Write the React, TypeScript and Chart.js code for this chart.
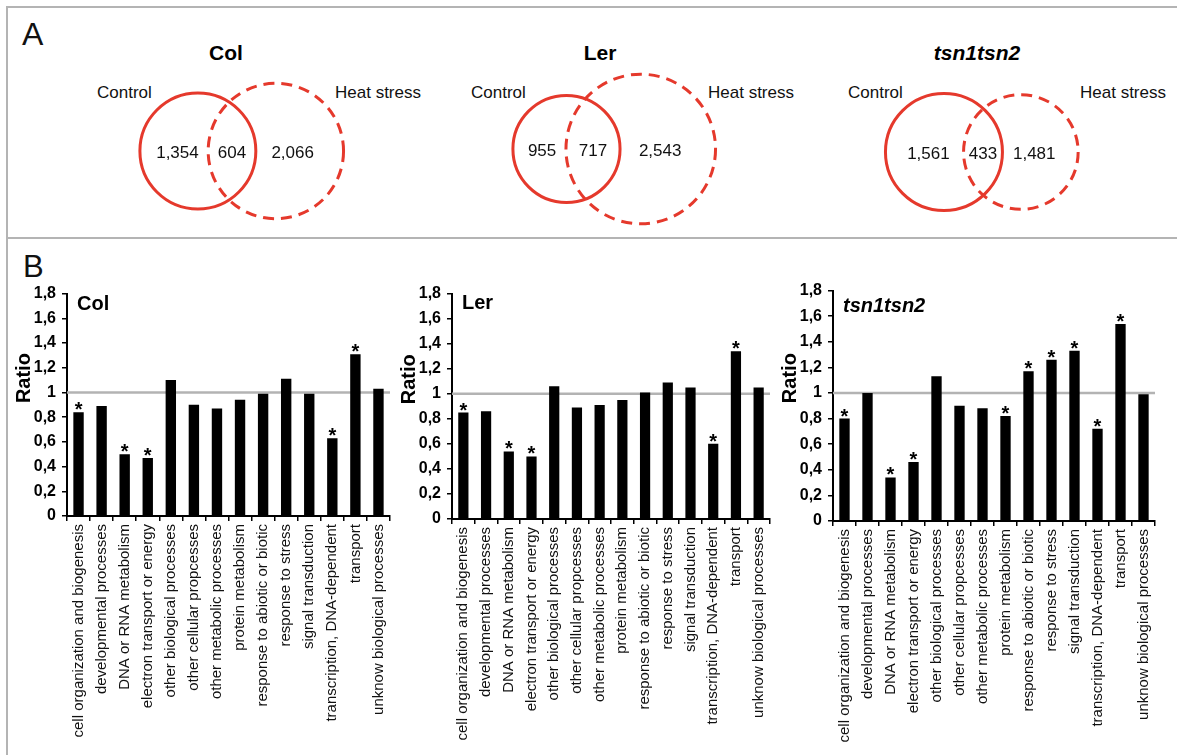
import React, { useEffect, useRef } from 'react';
import { Chart, registerables } from 'chart.js';

Chart.register(...registerables);

const FONT = "'Liberation Sans', Arial, Helvetica, sans-serif";
Chart.defaults.font.family = FONT;

// ---------------- Data ----------------
const categories = [
  'cell organization and biogenesis',
  'developmental processes',
  'DNA or RNA metabolism',
  'electron transport or energy',
  'other biological processes',
  'other cellular propcesses',
  'other metabolic processes',
  'protein metabolism',
  'response to abiotic or biotic',
  'response to stress',
  'signal transduction',
  'transcription, DNA-dependent',
  'transport',
  'unknow biological processes',
];

const yTickLabels = ['0', '0,2', '0,4', '0,6', '0,8', '1', '1,2', '1,4', '1,6', '1,8'];

const colRatio = [0.84, 0.89, 0.5, 0.47, 1.1, 0.9, 0.87, 0.94, 0.99, 1.11, 0.99, 0.63, 1.31, 1.03];
const colSig = [true, false, true, true, false, false, false, false, false, false, false, true, true, false];

const lerRatio = [0.85, 0.86, 0.54, 0.5, 1.06, 0.89, 0.91, 0.95, 1.01, 1.09, 1.05, 0.6, 1.34, 1.05];
const lerSig = [true, false, true, true, false, false, false, false, false, false, false, true, true, false];

const tsnRatio = [0.8, 1.0, 0.34, 0.46, 1.13, 0.9, 0.88, 0.82, 1.17, 1.26, 1.33, 0.72, 1.54, 0.99];
const tsnSig = [true, false, true, true, false, false, false, true, true, true, true, true, true, false];

const vennNames = ['Col', 'Ler', 'tsn1tsn2'];
const vennControlOnly = [1354, 955, 1561];
const vennShared = [604, 717, 433];
const vennHeatOnly = [2066, 2543, 1481];

// ---------------- Layout / style ----------------
const RED = '#e5392c';
const FRAME = '#b4b4b4';
const VENN_CANVAS = { left: 9, top: 9, width: 1168, height: 227 };
const vennAnchorX = [232, 593, 983];
const vennAnchorY = [151, 149, 152];
const vennTitleX = [226, 600, 977];
const controlLabelX = [97, 471, 848];
const heatLabelX = [335, 708, 1080];
const AREA_K = 1.31;

function lensArea(r1: number, r2: number, d: number) {
  if (d >= r1 + r2) return 0;
  if (d <= Math.abs(r1 - r2)) return Math.PI * Math.min(r1, r2) ** 2;
  const a = r1 * r1 * Math.acos((d * d + r1 * r1 - r2 * r2) / (2 * d * r1));
  const b = r2 * r2 * Math.acos((d * d + r2 * r2 - r1 * r1) / (2 * d * r2));
  const c = 0.5 * Math.sqrt((-d + r1 + r2) * (d + r1 - r2) * (d - r1 + r2) * (d + r1 + r2));
  return a + b - c;
}

function vennGeometry(i: number) {
  const r1 = AREA_K * Math.sqrt(vennControlOnly[i] + vennShared[i]);
  const r2 = AREA_K * Math.sqrt(vennHeatOnly[i] + vennShared[i]);
  const target = Math.PI * AREA_K * AREA_K * vennShared[i];
  let lo = Math.abs(r1 - r2) + 1e-6;
  let hi = r1 + r2;
  for (let k = 0; k < 80; k++) {
    const mid = (lo + hi) / 2;
    if (lensArea(r1, r2, mid) > target) lo = mid;
    else hi = mid;
  }
  const d = (lo + hi) / 2;
  const c1 = vennAnchorX[i] - VENN_CANVAS.left - (d + r1 - r2) / 2;
  const c2 = c1 + d;
  const cy = vennAnchorY[i] - VENN_CANVAS.top;
  return { r1, r2, c1, c2, cy };
}

const fmt = (n: number) => n.toLocaleString('en-US');

function VennPanel() {
  const ref = useRef<HTMLCanvasElement>(null);
  useEffect(() => {
    const geo = vennNames.map((_, i) => vennGeometry(i));
    const dashPlugin = {
      id: 'dashCircles',
      beforeDatasetDraw(chart: any, args: any) {
        const ds = chart.data.datasets[args.index];
        chart.ctx.setLineDash(ds.dashPattern || []);
      },
      afterDatasetDraw(chart: any) {
        chart.ctx.setLineDash([]);
      },
    };
    const countPlugin = {
      id: 'vennCounts',
      afterDatasetsDraw(chart: any) {
        const { ctx } = chart;
        const xs = chart.scales.x;
        const ys = chart.scales.y;
        ctx.save();
        ctx.font = `17px ${FONT}`;
        ctx.fillStyle = '#111';
        ctx.textAlign = 'center';
        ctx.textBaseline = 'alphabetic';
        geo.forEach((g, i) => {
          const py = ys.getPixelForValue(g.cy) + 6.5;
          const l0 = g.c1 - g.r1;
          const l1 = g.c2 - g.r2;
          const r0 = g.c1 + g.r1;
          const r1 = g.c2 + g.r2;
          const leftX = l0 + 0.55 * (l1 - l0);
          const midX = (l1 + r0) / 2;
          const rightX = r0 + 0.42 * (r1 - r0);
          ctx.fillText(fmt(vennControlOnly[i]), xs.getPixelForValue(leftX), py);
          ctx.fillText(fmt(vennShared[i]), xs.getPixelForValue(midX), py);
          ctx.fillText(fmt(vennHeatOnly[i]), xs.getPixelForValue(rightX), py);
        });
        ctx.restore();
      },
    };
    const chart = new Chart(ref.current as HTMLCanvasElement, {
      type: 'bubble',
      data: {
        datasets: [
          {
            label: 'Control',
            data: geo.map((g) => ({ x: g.c1, y: g.cy, r: g.r1 })),
            borderColor: RED,
            backgroundColor: 'rgba(0,0,0,0)',
            borderWidth: 3,
            clip: false,
          } as any,
          {
            label: 'Heat stress',
            data: geo.map((g) => ({ x: g.c2, y: g.cy, r: g.r2 })),
            borderColor: RED,
            backgroundColor: 'rgba(0,0,0,0)',
            borderWidth: 3,
            clip: false,
            dashPattern: [11, 7],
          } as any,
        ],
      },
      options: {
        animation: false,
        responsive: false,
        events: [],
        layout: { padding: 0, autoPadding: false },
        plugins: { legend: { display: false }, tooltip: { enabled: false } },
        scales: {
          x: { type: 'linear', min: 0, max: VENN_CANVAS.width, display: false },
          y: { type: 'linear', min: 0, max: VENN_CANVAS.height, reverse: true, display: false },
        },
      } as any,
      plugins: [dashPlugin, countPlugin],
    });
    return () => chart.destroy();
  }, []);
  return (
    <canvas
      ref={ref}
      width={VENN_CANVAS.width}
      height={VENN_CANVAS.height}
      style={{
        position: 'absolute',
        left: VENN_CANVAS.left,
        top: VENN_CANVAS.top,
        width: VENN_CANVAS.width,
        height: VENN_CANVAS.height,
      }}
    />
  );
}

const Y_AXIS_W = 57;
const X_AXIS_H = 232;
const PAD_TOP = 15;
const PAD_RIGHT = 12;

type BarProps = {
  values: number[];
  sig: boolean[];
  title: string;
  italic?: boolean;
  axisX: number;
  chartTop: number;
  chartBottom: number;
  chartRight: number;
  titleDy: number;
};

function BarPanel({ values, sig, title, italic, axisX, chartTop, chartBottom, chartRight, titleDy }: BarProps) {
  const ref = useRef<HTMLCanvasElement>(null);
  const left = axisX - Y_AXIS_W;
  const top = chartTop - PAD_TOP;
  const width = chartRight + PAD_RIGHT - left;
  const height = chartBottom - chartTop + PAD_TOP + X_AXIS_H;

  useEffect(() => {
    const refLine = {
      id: 'refLine',
      beforeDatasetsDraw(chart: any) {
        const { ctx, chartArea } = chart;
        const y = chart.scales.y.getPixelForValue(1);
        ctx.save();
        ctx.strokeStyle = '#b3b3b3';
        ctx.lineWidth = 2.5;
        ctx.beginPath();
        ctx.moveTo(chartArea.left, y);
        ctx.lineTo(chartArea.right, y);
        ctx.stroke();
        ctx.restore();
      },
    };
    const stars = {
      id: 'stars',
      afterDatasetsDraw(chart: any) {
        const { ctx } = chart;
        const meta = chart.getDatasetMeta(0);
        ctx.save();
        ctx.font = `bold 20px ${FONT}`;
        ctx.fillStyle = '#000';
        ctx.textAlign = 'center';
        ctx.textBaseline = 'alphabetic';
        meta.data.forEach((bar: any, i: number) => {
          if (sig[i]) ctx.fillText('*', bar.x, bar.y + 4);
        });
        ctx.restore();
      },
    };
    const titles = {
      id: 'panelTitles',
      afterDraw(chart: any) {
        const { ctx, chartArea } = chart;
        ctx.save();
        ctx.font = `${italic ? 'italic ' : ''}bold 20px ${FONT}`;
        ctx.fillStyle = '#000';
        ctx.textAlign = 'left';
        ctx.textBaseline = 'middle';
        ctx.fillText(title, chartArea.left + 10, chartArea.top + titleDy);
        // y-axis title "Ratio"
        const ty = chartArea.top + (chartArea.bottom - chartArea.top) * 0.38;
        ctx.translate(14, ty);
        ctx.rotate(-Math.PI / 2);
        ctx.textAlign = 'center';
        ctx.font = `bold 20px ${FONT}`;
        ctx.fillText('Ratio', 0, 0);
        ctx.restore();
      },
    };
    const chart = new Chart(ref.current as HTMLCanvasElement, {
      type: 'bar',
      data: {
        labels: categories,
        datasets: [
          {
            data: values,
            backgroundColor: '#000',
            borderWidth: 0,
            barPercentage: 1,
            categoryPercentage: 0.45,
          },
        ],
      },
      options: {
        animation: false,
        responsive: false,
        events: [],
        layout: { padding: { top: PAD_TOP, right: PAD_RIGHT, left: 0, bottom: 0 } },
        plugins: { legend: { display: false }, tooltip: { enabled: false } },
        scales: {
          x: {
            grid: {
              display: true,
              drawOnChartArea: false,
              drawTicks: true,
              tickLength: 5,
              color: '#000',
              lineWidth: 1.5,
              offset: true,
            },
            border: { display: true, color: '#000', width: 2 },
            ticks: {
              autoSkip: false,
              maxRotation: 90,
              minRotation: 90,
              padding: 3,
              color: '#111',
              font: { size: 15 },
            },
            afterFit: (s: any) => {
              s.height = X_AXIS_H;
            },
          },
          y: {
            min: 0,
            max: 1.8,
            ticks: {
              stepSize: 0.2,
              callback: (_v: any, i: number) => yTickLabels[i],
              color: '#000',
              font: { size: 16, weight: 'bold' },
              padding: 6,
            },
            grid: {
              drawOnChartArea: false,
              drawTicks: true,
              tickLength: 5,
              color: '#000',
              lineWidth: 1.5,
            },
            border: { display: true, color: '#000', width: 2 },
            title: { display: false },
            afterFit: (s: any) => {
              s.width = Y_AXIS_W;
            },
          },
        },
      } as any,
      plugins: [refLine, stars, titles],
    });
    return () => chart.destroy();
  }, []);

  return (
    <canvas
      ref={ref}
      width={width}
      height={height}
      style={{ position: 'absolute', left, top, width, height }}
    />
  );
}

const textStyle = (extra: React.CSSProperties): React.CSSProperties => ({
  position: 'absolute',
  lineHeight: 1,
  whiteSpace: 'nowrap',
  color: '#111',
  fontFamily: FONT,
  ...extra,
});

export default function App() {
  useEffect(() => {
    document.body.style.margin = '0';
  }, []);
  return (
    <div
      style={{
        position: 'absolute',
        left: 0,
        top: 0,
        width: 1177,
        height: 755,
        background: '#fff',
        overflow: 'hidden',
        fontFamily: FONT,
      }}
    >
      {/* frame */}
      <div style={{ position: 'absolute', left: 6, top: 6, width: 2, height: 749, background: FRAME }} />
      <div style={{ position: 'absolute', left: 6, top: 6, width: 1171, height: 2, background: FRAME }} />
      <div style={{ position: 'absolute', left: 6, top: 237, width: 1171, height: 2, background: FRAME }} />

      {/* Panel A */}
      <div style={textStyle({ left: 22, top: 18, fontSize: 32 })}>A</div>
      {vennNames.map((name, i) => (
        <div
          key={name}
          style={textStyle({
            left: vennTitleX[i],
            top: 42,
            fontSize: 21,
            fontWeight: 'bold',
            fontStyle: i === 2 ? 'italic' : 'normal',
            transform: 'translateX(-50%)',
            color: '#000',
          })}
        >
          {name}
        </div>
      ))}
      {vennNames.map((name, i) => (
        <div key={'c' + name} style={textStyle({ left: controlLabelX[i], top: 84, fontSize: 17 })}>
          Control
        </div>
      ))}
      {vennNames.map((name, i) => (
        <div key={'h' + name} style={textStyle({ left: heatLabelX[i], top: 84, fontSize: 17 })}>
          Heat stress
        </div>
      ))}
      <VennPanel />

      {/* Panel B */}
      <div style={textStyle({ left: 23, top: 251, fontSize: 31 })}>B</div>
      <BarPanel values={colRatio} sig={colSig} title="Col" axisX={67} chartTop={293} chartBottom={516} chartRight={390} titleDy={11} />
      <BarPanel values={lerRatio} sig={lerSig} title="Ler" axisX={452} chartTop={293} chartBottom={519} chartRight={770} titleDy={10} />
      <BarPanel values={tsnRatio} sig={tsnSig} title="tsn1tsn2" italic axisX={833} chartTop={290} chartBottom={521} chartRight={1155} titleDy={16} />
    </div>
  );
}
